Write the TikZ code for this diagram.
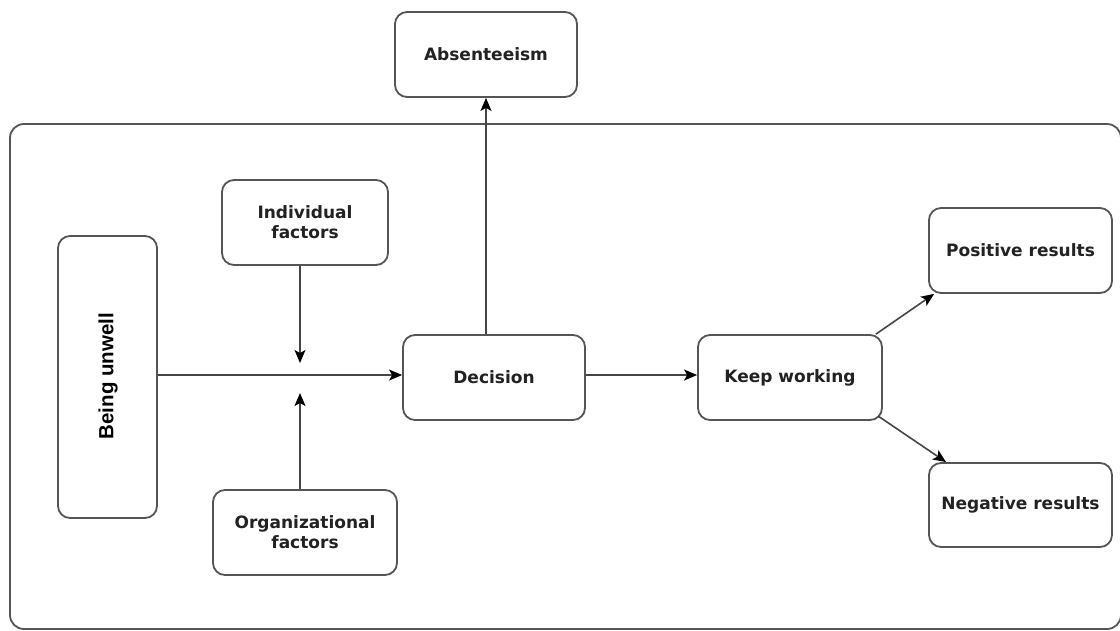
\documentclass[tikz,border=0pt]{standalone}
\usepackage{fontspec}
\setmainfont{DejaVu Sans}
\newfontfamily\sidefont{Liberation Sans}
\usetikzlibrary{arrows.meta}
\definecolor{edgegray}{HTML}{555555}
\definecolor{linegray}{HTML}{454545}
\definecolor{inkdark}{HTML}{222222}
\begin{document}
\begin{tikzpicture}[x=1pt,y=-1pt,
  box/.style={draw=edgegray, line width=1.8pt, rounded corners=12pt, fill=white,
    text=inkdark, align=center, inner sep=0pt,
    font=\fontsize{17}{20}\selectfont\bfseries},
  flow/.style={draw=linegray, line width=1.6pt,
    -{Stealth[length=13pt,width=11pt,inset=3pt,color=black]}}]
\useasboundingbox (0,0) rectangle (1120,630);
\begin{scope}
  \clip (0,0) rectangle (1120,630);
  \draw[edgegray, line width=1.8pt, rounded corners=14pt] (10,124) rectangle (1121,629);
\end{scope}

% boxes
\node[box, minimum width=182pt, minimum height=85pt] (abs) at (486,54.5) {Absenteeism};
\node[box, minimum width=99pt, minimum height=282pt] (unwell) at (107.5,377) {};
\node[text=black, rotate=90, font=\sidefont\fontsize{20.5}{24}\selectfont\bfseries] (unwelltext) at (108,376) {Being unwell};
\node[box, minimum width=166pt, minimum height=85pt] (indiv) at (305,222.5) {Individual\\factors};
\node[box, minimum width=184pt, minimum height=85pt] (org) at (305,532.5) {Organizational\\factors};
\node[box, minimum width=182pt, minimum height=85pt] (dec) at (494,377.5) {Decision};
\node[box, minimum width=184pt, minimum height=85pt] (keep) at (790,377.5) {Keep working};
\node[box, minimum width=183pt, minimum height=85pt] (pos) at (1020.5,250.5) {Positive results};
\node[box, minimum width=183pt, minimum height=84pt] (neg) at (1020.5,505) {Negative results};

% connectors
\coordinate (j) at (300,375);
\draw[flow] (unwell.east |- j) -- (dec.west |- j);
\draw[flow] (j |- indiv.south) -- ([yshift=12pt]j);
\draw[flow] (j |- org.north) -- ([yshift=-18pt]j);
\draw[flow] (abs.south |- dec.north) -- (abs.south);
\draw[flow] (dec.east |- j) -- (keep.west |- j);
\draw[flow] ([xshift=-7pt]keep.north east) -- ([xshift=6pt]pos.south west);
\draw[flow] ([xshift=-5pt,yshift=5pt]keep.south east) -- ([xshift=18pt]neg.north west);
\end{tikzpicture}
\end{document}
